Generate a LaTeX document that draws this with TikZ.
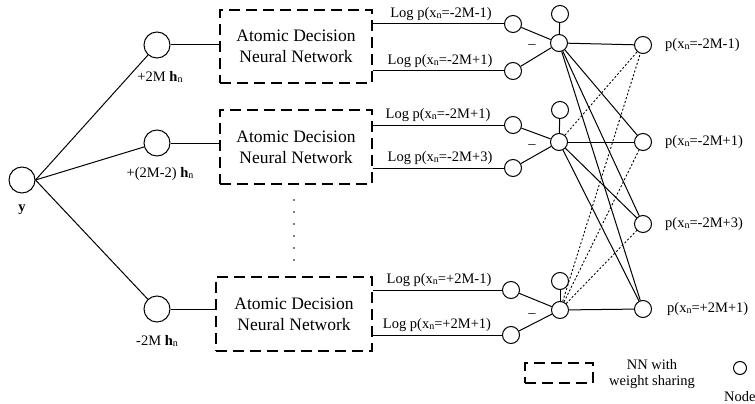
\documentclass[tikz,border=0pt]{standalone}
\usepackage{fontspec}
\setmainfont{Liberation Serif}
\newcommand{\nsub}{\raisebox{-0.6pt}{\fontsize{10}{10}\selectfont n}}
\begin{document}
\begin{tikzpicture}[x=1pt,y=-1pt,
  circ/.style={circle,draw,line width=1pt,inner sep=0pt,minimum size=17pt},
  bigcirc/.style={circle,draw,line width=1pt,inner sep=0pt,minimum size=26pt},
  nnbox/.style={draw,line width=1.5pt,dash pattern=on 11pt off 6pt,minimum width=152pt,minimum height=73pt,inner sep=0pt,align=center,font=\fontsize{17.5}{21}\selectfont},
  lbl/.style={font=\fontsize{14.5}{17}\selectfont,inner sep=1pt},
  conn/.style={line width=1pt},
  dotconn/.style={line width=0.9pt,dash pattern=on 2pt off 2pt}]
\useasboundingbox (0,0) rectangle (755,404);
% input
\node[bigcirc] (y) at (22,180) {};
\node[lbl,font=\bfseries\fontsize{14.5}{17}\selectfont] (ylab) at (22,210) {y};
% branch circles
\node[bigcirc] (a1) at (157,45) {};
\node[bigcirc] (a2) at (157,143) {};
\node[bigcirc] (a3) at (157,309) {};
\node[lbl] (al1) at (160,77) {+2M \textbf{h}\nsub};
\node[lbl] (al2) at (160,174) {+(2M-2) \textbf{h}\nsub};
\node[lbl] (al3) at (157,341) {-2M \textbf{h}\nsub};
% boxes
\node[nnbox] (b1) at (296,46.5) {Atomic Decision\\Neural Network};
\node[nnbox,minimum height=74pt] (b2) at (296,147) {Atomic Decision\\Neural Network};
\node[nnbox,minimum width=156pt,minimum height=74pt] (b3) at (294,314) {Atomic Decision\\Neural Network};
\foreach \yy in {200,212,...,260} \fill (294,\yy) circle (0.9pt);
% log circles, combiners
\node[circ] (l11) at (513,24) {};
\node[circ] (l12) at (513,71) {};
\node[circ] (c1) at (559,43) {};
\node[circ] (t1) at (560,14) {};
\node[circ] (l21) at (513,125) {};
\node[circ] (l22) at (513,168) {};
\node[circ] (c2) at (559,142) {};
\node[circ] (t2) at (560,110) {};
\node[circ] (l31) at (511,290) {};
\node[circ] (l32) at (511,335) {};
\node[circ] (c3) at (560,310) {};
\node[circ] (t3) at (560,281) {};
% outputs
\node[circ] (o1) at (643,45) {};
\node[circ] (o2) at (643,142) {};
\node[circ] (o3) at (643,224) {};
\node[circ] (o4) at (643,309) {};
\node[lbl,anchor=west] (ol1) at (664,45) {p(x\nsub=-2M-1)};
\node[lbl,anchor=west] (ol2) at (664,142) {p(x\nsub=-2M+1)};
\node[lbl,anchor=west] (ol3) at (664,224) {p(x\nsub=-2M+3)};
\node[lbl,anchor=west] (ol4) at (666,309) {p(x\nsub=+2M+1)};
% log labels
\node[lbl,anchor=south] (g11) at (441,22) {Log p(x\nsub=-2M-1)};
\node[lbl,anchor=south] (g12) at (440,69) {Log p(x\nsub=-2M+1)};
\node[lbl,anchor=south] (g21) at (438,123) {Log p(x\nsub=-2M+1)};
\node[lbl,anchor=south] (g22) at (440,166) {Log p(x\nsub=-2M+3)};
\node[lbl,anchor=south] (g31) at (439,288) {Log p(x\nsub=+2M-1)};
\node[lbl,anchor=south] (g32) at (437,333) {Log p(x\nsub=+2M+1)};
% minus signs
\node[lbl] (m1) at (532,47) {--};
\node[lbl] (m2) at (532,147) {--};
\node[lbl] (m3) at (532,316) {--};
% connectors left
\draw[conn] (y.east) -- (a1);
\draw[conn] (y.east) -- (a2);
\draw[conn] (y.east) -- (a3);
\draw[conn] (a1) -- (b1.west |- a1);
\draw[conn] (a2) -- (b2.west |- a2);
\draw[conn] (a3) -- (b3.west |- a3);
\draw[conn] (b1.east |- l11) -- (l11);
\draw[conn] (b1.east |- l12) -- (l12);
\draw[conn] (b2.east |- l21) -- (l21);
\draw[conn] (b2.east |- l22) -- (l22);
\draw[conn] (b3.east |- l31) -- (l31);
\draw[conn] (b3.east |- l32) -- (l32);
\foreach \g in {1,2,3}{
  \draw[conn] (l\g1) -- (c\g);
  \draw[conn] (l\g2) -- (c\g);
  \draw[conn] (t\g) -- (c\g);
}
% to outputs
\draw[conn] (c1) -- (o1);
\draw[conn] (c1) -- (o2);
\draw[conn] (c1) -- (o3);
\draw[conn] (c1) -- (o4);
\draw[conn] (c2) -- (o2);
\draw[conn] (c2) -- (o3);
\draw[conn] (c2) -- (o4);
\draw[conn] (c3) -- (o4);
\draw[dotconn] (c2) -- (o1);
\draw[dotconn] (c3) -- (o1);
\draw[dotconn] (c3) -- (o2);
\draw[dotconn] (c3) -- (o3);
% legend
\node[draw,line width=1.5pt,dash pattern=on 11pt off 6pt,minimum width=68pt,minimum height=20pt,inner sep=0pt] (leg) at (559,373) {};
\node[lbl,align=center,font=\fontsize{14.5}{16}\selectfont] (legt) at (652,374) {NN with\\weight sharing};
\node[circle,draw,line width=1pt,inner sep=0pt,minimum size=13pt] (lc) at (740,368) {};
\node[lbl,anchor=west] (lct) at (723,397) {Node};
\end{tikzpicture}
\end{document}
